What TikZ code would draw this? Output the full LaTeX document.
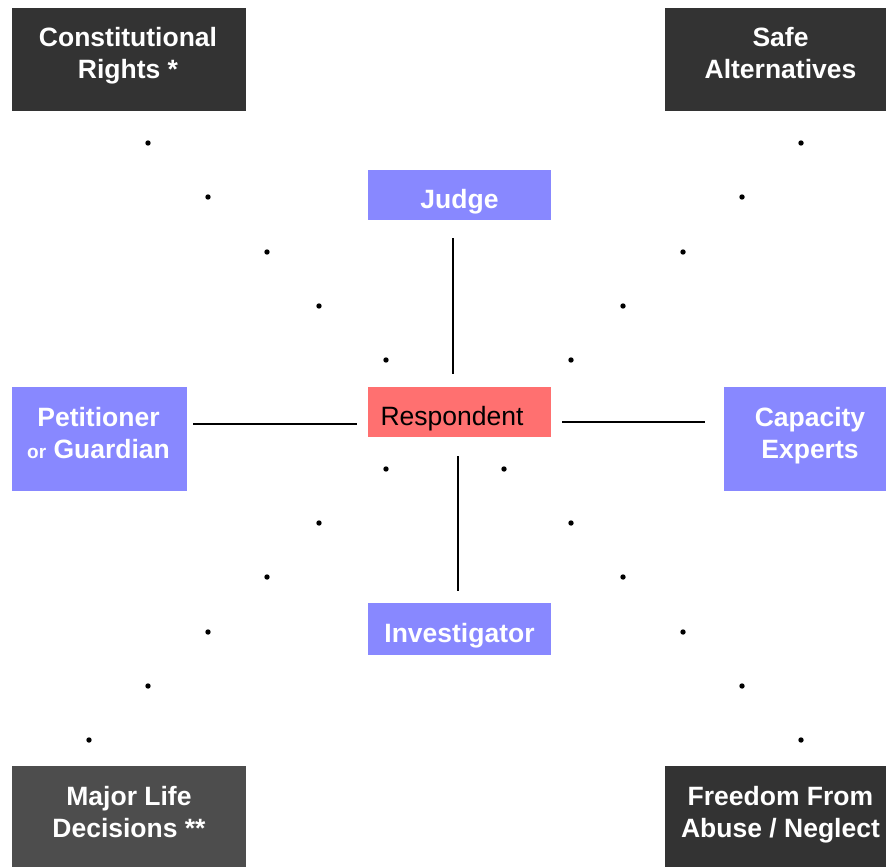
\documentclass[tikz,border=0pt]{standalone}
\usepackage{fontspec}
\setmainfont{Liberation Sans}
\usetikzlibrary{positioning, calc}
\definecolor{darkbox}{RGB}{51,51,51}
\definecolor{greybox}{RGB}{77,77,77}
\definecolor{rolebox}{RGB}{136,136,255}
\definecolor{centrebox}{RGB}{255,112,112}

\begin{document}
\begin{tikzpicture}[
        x=1pt, y=-1pt,
        box/.style={rectangle, draw=none, text=white, align=center, inner sep=0pt,
            font=\fontsize{26.5}{32}\selectfont\bfseries},
        dark/.style={box, fill=darkbox},
        role/.style={box, fill=rolebox},
        oneline/.style={text height=26, text depth=0},
        caption/.style={text=white, align=center, inner sep=0pt,
            font=\fontsize{26.5}{32}\selectfont\bfseries},
        link/.style={draw=black, line width=2.4pt},
        dot/.style={fill=black}
    ]
        \useasboundingbox (0,0) rectangle (886,867);

        % corner boxes
        \node[dark, minimum width=234, minimum height=103,
            label={[caption, shift={(-1,-4)}]center:{Constitutional\\Rights *}}] (rights) at (129,59.5) {};
        \node[dark, minimum width=221, minimum height=103,
            label={[caption, shift={(5,-6)}]center:{Safe\\Alternatives}}] (safe) at (775.5,59.5) {};
        \node[box, fill=greybox, minimum width=234, minimum height=101,
            label={[caption, shift={(0,-4)}]center:{Major Life\\Decisions **}}] (major) at (129,816.5) {};
        \node[dark, minimum width=221, minimum height=101,
            label={[caption, shift={(5,-2)}]center:{Freedom From\\Abuse / Neglect}}] (abuse) at (775.5,816.5) {};

        % people
        \node[role, oneline, minimum width=183, minimum height=50] (judge) at (459.5,195) {Judge};
        \node[role, oneline, minimum width=183, minimum height=52] (invest) at (459.5,629) {Investigator};
        \node[role, minimum width=175, minimum height=104,
            label={[caption, shift={(-1,-6)}]center:{Petitioner\\{\fontsize{19}{32}\selectfont or} Guardian}}] (petit) at (99.5,439) {};
        \node[role, minimum width=162, minimum height=104,
            label={[caption, shift={(5,-3.5)}]center:{Capacity\\Experts}}] (capac) at (805,439) {};
        \node[box, oneline, fill=centrebox, text=black, font=\fontsize{26.5}{32}\selectfont,
            minimum height=50, text width=158, inner xsep=12.5, align=left] (resp) at (459.5,412) {Respondent};

        \draw[link] ([shift={(-6.5,18)}]judge.south) -- ([shift={(-6.5,-13)}]resp.north);
        \draw[link] ([shift={(-1.5,19)}]resp.south) -- ([shift={(-1.5,-12)}]invest.north);
        \draw[link] ([shift={(6,-15)}]petit.east) -- ([shift={(-11,12)}]resp.west);
        \draw[link] ([shift={(11,10)}]resp.east) -- ([shift={(-19,-17)}]capac.west);

        % dotted diagonals
        \foreach \x/\y in {148/143, 208/197, 267/252, 319/306, 386/360,
                           801/143, 742/197, 683/252, 623/306, 571/360,
                           386/469, 319/523, 267/577, 208/632, 148/686, 89/740,
                           504/469, 571/523, 623/577, 683/632, 742/686, 801/740}
            \fill[dot] (\x,\y) circle (2.7);
\end{tikzpicture}
\end{document}
